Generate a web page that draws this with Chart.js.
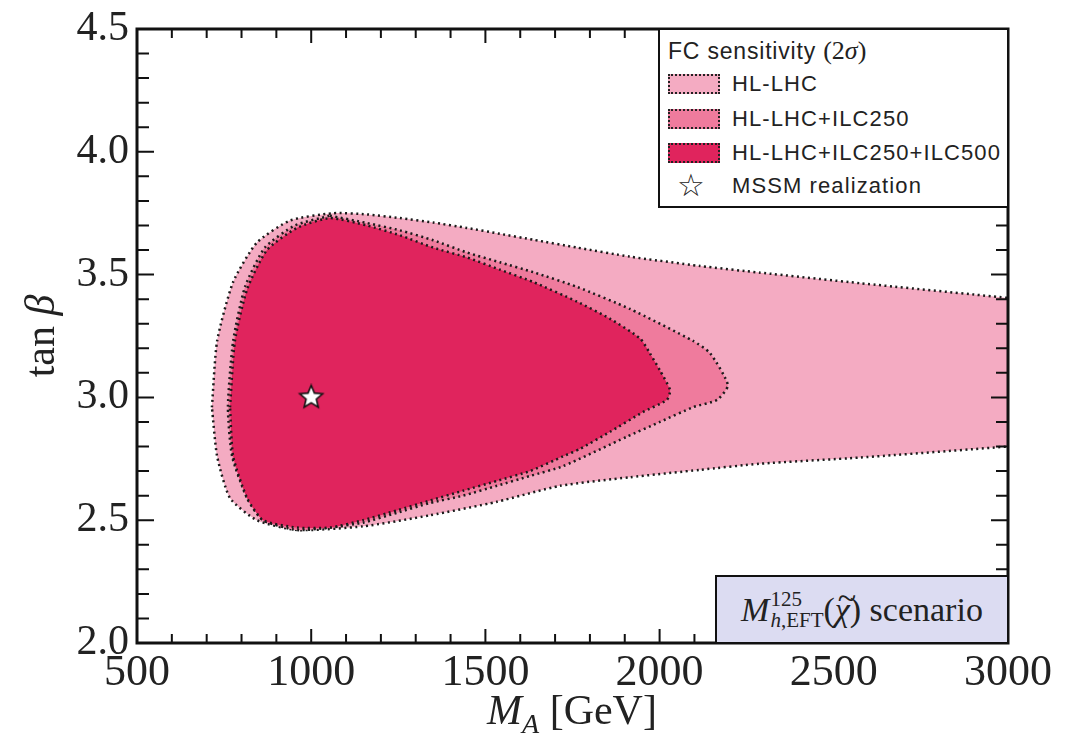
<!DOCTYPE html>
<html>
<head>
<meta charset="utf-8">
<script src="https://cdn.jsdelivr.net/npm/chart.js@4.4.0/dist/chart.umd.min.js"></script>
<style>
    body { margin: 0; background: #fff; }
    #wrap { position: relative; width: 1071px; height: 747px; }
    #chart { position: absolute; left: 0; top: 0; }
    .legend {
        position: absolute; left: 658px; top: 28px; width: 351px; height: 180px;
        border: 2px solid #111; background: #fff; box-sizing: border-box;
        font-family: "Liberation Sans", Arial, sans-serif; font-size: 22px; color: #222;
        letter-spacing: 1.1px;
    }
    .legend .row { position: absolute; left: 0; height: 30px; line-height: 30px; white-space: nowrap; }
    .legend .sw { position: absolute; left: 8px; top: 5px; width: 48px; height: 16px; border: 2px dotted #222; }
    .legend .lab { position: absolute; left: 72px; top: 0; }
    .legend .ttl { left: 8px; font-size: 23px; letter-spacing: 0.8px; }
    .serif { font-family: "Liberation Serif", "DejaVu Serif", serif; font-size: 26px; letter-spacing: 0; }
    .scen {
        position: absolute; left: 715px; top: 575px; width: 294px; height: 69px;
        border: 2px solid #111; background: #dcdcf2; box-sizing: border-box;
        font-family: "Liberation Serif", serif; font-size: 34px; color: #222;
        display: flex; align-items: center; justify-content: center;
    }
    .stack { display: inline-flex; flex-direction: column; vertical-align: middle; font-size: 21px; line-height: 21px; margin-left: 1px; }
    .chi { position: relative; display: inline-block; }
    .chi .tl { position: absolute; left: 3px; top: -12px; font-style: normal; }
    .xt { position: absolute; left: 472px; top: 686px; width: 200px; text-align: center;
          font-family: "Liberation Serif", serif; font-size: 42px; color: #222; white-space: nowrap; }
    .yt { position: absolute; left: -40px; top: 312px; width: 160px; text-align: center;
          font-family: "Liberation Serif", serif; font-size: 42px; color: #222; transform: rotate(-90deg); white-space: nowrap; }
</style>
</head>
<body>
<div id="wrap">
    <canvas id="chart" width="1071" height="747"></canvas>
    <div class="legend">
        <div class="row ttl" style="top:6px;">FC sensitivity <span class="serif">(2<i>σ</i>)</span></div>
        <div class="row" style="top:39px; width:100%;"><div class="sw" style="background:#f4abc2"></div><span class="lab">HL-LHC</span></div>
        <div class="row" style="top:74px; width:100%;"><div class="sw" style="background:#ef7b9d"></div><span class="lab">HL-LHC+ILC250</span></div>
        <div class="row" style="top:108px; width:100%;"><div class="sw" style="background:#e0245d"></div><span class="lab">HL-LHC+ILC250+ILC500</span></div>
        <div class="row" style="top:141px; width:100%;"><span style="position:absolute;left:17px;top:-1px;font-family:'DejaVu Sans';font-size:31px;">☆</span><span class="lab">MSSM realization</span></div>
    </div>
    <div class="scen"><i>M</i><span class="stack"><span>125</span><span><i>h</i>,EFT</span></span>(<span class="chi"><i>χ</i><span class="tl">~</span></span>)&nbsp;scenario</div>
    <div class="xt"><i>M</i><sub style="font-size:28px;"><i>A</i></sub> [GeV]</div>
    <div class="yt">tan <i>β</i></div>
</div>

<script>
// HL-LHC contour (outer)
const hlLhcX = [715, 730, 776, 844, 939, 1063, 1160, 1255, 1350, 1447, 1542, 1637, 1763, 1915, 2116, 2288, 2575, 3000, 3100,
                3100, 3000, 2575, 2288, 2116, 1915, 1714, 1533, 1341, 1149, 959, 844, 767, 730, 715];
const hlLhcY = [2.96, 3.23, 3.47, 3.63, 3.72, 3.75, 3.745, 3.73, 3.712, 3.69, 3.666, 3.642, 3.61, 3.573, 3.535, 3.508, 3.465, 3.405, 3.39,
                2.81, 2.80, 2.755, 2.73, 2.705, 2.675, 2.64, 2.575, 2.52, 2.475, 2.46, 2.50, 2.59, 2.76, 2.96];

// HL-LHC+ILC250 contour
const ilc250X = [1054, 1160, 1255, 1350, 1447, 1542, 1637, 1763, 1915, 2096, 2145, 2196, 2165, 2096, 2001, 1906, 1723,
                 1628, 1533, 1436, 1341, 1246, 1149, 1054, 959, 862, 816, 773, 761, 776, 810, 867, 953, 1054];
const ilc250Y = [3.74, 3.71, 3.68, 3.64, 3.59, 3.55, 3.51, 3.45, 3.36, 3.23, 3.18, 3.05, 2.99, 2.96, 2.90, 2.84, 2.72,
                 2.68, 2.64, 2.60, 2.57, 2.53, 2.49, 2.47, 2.46, 2.50, 2.59, 2.76, 2.96, 3.23, 3.45, 3.61, 3.70, 3.74];

// HL-LHC+ILC250+ILC500 contour (inner)
const ilc500X = [767, 781, 816, 873, 959, 1054, 1160, 1255, 1350, 1447, 1542, 1637, 1763, 1858, 1944, 1972, 2001, 2030,
                 2021, 1952, 1858, 1771, 1723, 1628, 1533, 1436, 1341, 1246, 1149, 1054, 959, 862, 816, 776, 767];
const ilc500Y = [2.96, 3.23, 3.44, 3.60, 3.69, 3.73, 3.70, 3.66, 3.61, 3.57, 3.52, 3.47, 3.39, 3.32, 3.24, 3.18, 3.11, 3.03,
                 2.99, 2.94, 2.86, 2.79, 2.76, 2.70, 2.66, 2.62, 2.58, 2.54, 2.50, 2.47, 2.47, 2.50, 2.59, 2.76, 2.96];

// MSSM realization point
const starX = [1000];
const starY = [3.0];

const xMin = 500, xMax = 3000, xMajor = 500, xMinor = 100;
const yMin = 2.0, yMax = 4.5, yMajor = 0.5, yMinor = 0.1;

function pairs(xs, ys) {
    return xs.map((x, i) => ({ x: x, y: ys[i] }));
}

function makeStar(r) {
    const c = document.createElement('canvas');
    const s = r * 2 + 4;
    c.width = s; c.height = s;
    const g = c.getContext('2d');
    g.beginPath();
    for (let i = 0; i < 10; i++) {
        const rad = i % 2 ? r * 0.45 : r;
        const a = -Math.PI / 2 + i * Math.PI / 5;
        g.lineTo(s / 2 + rad * Math.cos(a), s / 2 + rad * Math.sin(a));
    }
    g.closePath();
    g.fillStyle = '#fff';
    g.fill();
    g.lineWidth = 1.6;
    g.strokeStyle = '#111';
    g.stroke();
    return c;
}

// ticks pointing inward on all four sides + frame
const frameTicks = {
    id: 'frameTicks',
    afterDatasetsDraw(chart) {
        const { ctx, chartArea: a, scales: { x, y } } = chart;
        ctx.save();
        ctx.strokeStyle = '#111';
        ctx.lineWidth = 2;
        ctx.beginPath();
        for (let v = xMin; v <= xMax + 1e-6; v += xMinor) {
            const px = x.getPixelForValue(v);
            const len = Math.abs(v % xMajor) < 1e-6 ? 14 : 9;
            ctx.moveTo(px, a.bottom); ctx.lineTo(px, a.bottom - len);
            ctx.moveTo(px, a.top); ctx.lineTo(px, a.top + len);
        }
        for (let i = 0; i <= Math.round((yMax - yMin) / yMinor); i++) {
            const v = yMin + i * yMinor;
            const py = y.getPixelForValue(v);
            const len = i % Math.round(yMajor / yMinor) === 0 ? 17 : 12;
            ctx.moveTo(a.left, py); ctx.lineTo(a.left + len, py);
            ctx.moveTo(a.right, py); ctx.lineTo(a.right - len, py);
        }
        ctx.stroke();
        ctx.lineWidth = 3;
        ctx.strokeRect(a.left, a.top, a.right - a.left, a.bottom - a.top);
        ctx.restore();
    }
};

function region(label, xs, ys, color, order) {
    return {
        label: label,
        data: pairs(xs, ys),
        showLine: true,
        fill: 'shape',
        backgroundColor: color,
        borderColor: '#1a1a1a',
        borderWidth: 2.5,
        borderDash: [2, 3.5],
        pointRadius: 0,
        tension: 0.2,
        order: order
    };
}

new Chart(document.getElementById('chart'), {
    type: 'line',
    data: {
        datasets: [
            region('HL-LHC', hlLhcX, hlLhcY, '#f4abc2', 3),
            region('HL-LHC+ILC250', ilc250X, ilc250Y, '#ef7b9d', 2),
            region('HL-LHC+ILC250+ILC500', ilc500X, ilc500Y, '#e0245d', 1),
            {
                label: 'MSSM realization',
                data: pairs(starX, starY),
                showLine: false,
                pointStyle: makeStar(12),
                pointRadius: 12,
                order: 0
            }
        ]
    },
    options: {
        responsive: false,
        animation: false,
        layout: { padding: { top: 29, right: 63, bottom: 0, left: 0 } },
        plugins: { legend: { display: false }, tooltip: { enabled: false } },
        scales: {
            x: {
                type: 'linear',
                min: xMin, max: xMax,
                grid: { display: false, drawTicks: false },
                border: { display: false },
                ticks: {
                    stepSize: xMajor, maxRotation: 0, padding: 4, color: '#222',
                    font: { family: 'Liberation Serif', size: 44 },
                    callback: v => String(v)
                },
                afterFit(scale) { scale.height = 104; scale.paddingLeft = 0; scale.paddingRight = 0; }
            },
            y: {
                type: 'linear',
                min: yMin, max: yMax,
                grid: { display: false, drawTicks: false },
                border: { display: false },
                ticks: {
                    stepSize: yMajor, padding: 8, color: '#222',
                    font: { family: 'Liberation Serif', size: 42 },
                    callback: v => v.toFixed(1)
                },
                afterFit(scale) { scale.width = 137; scale.paddingTop = 0; scale.paddingBottom = 0; }
            }
        }
    },
    plugins: [frameTicks]
});
</script>
</body>
</html>
